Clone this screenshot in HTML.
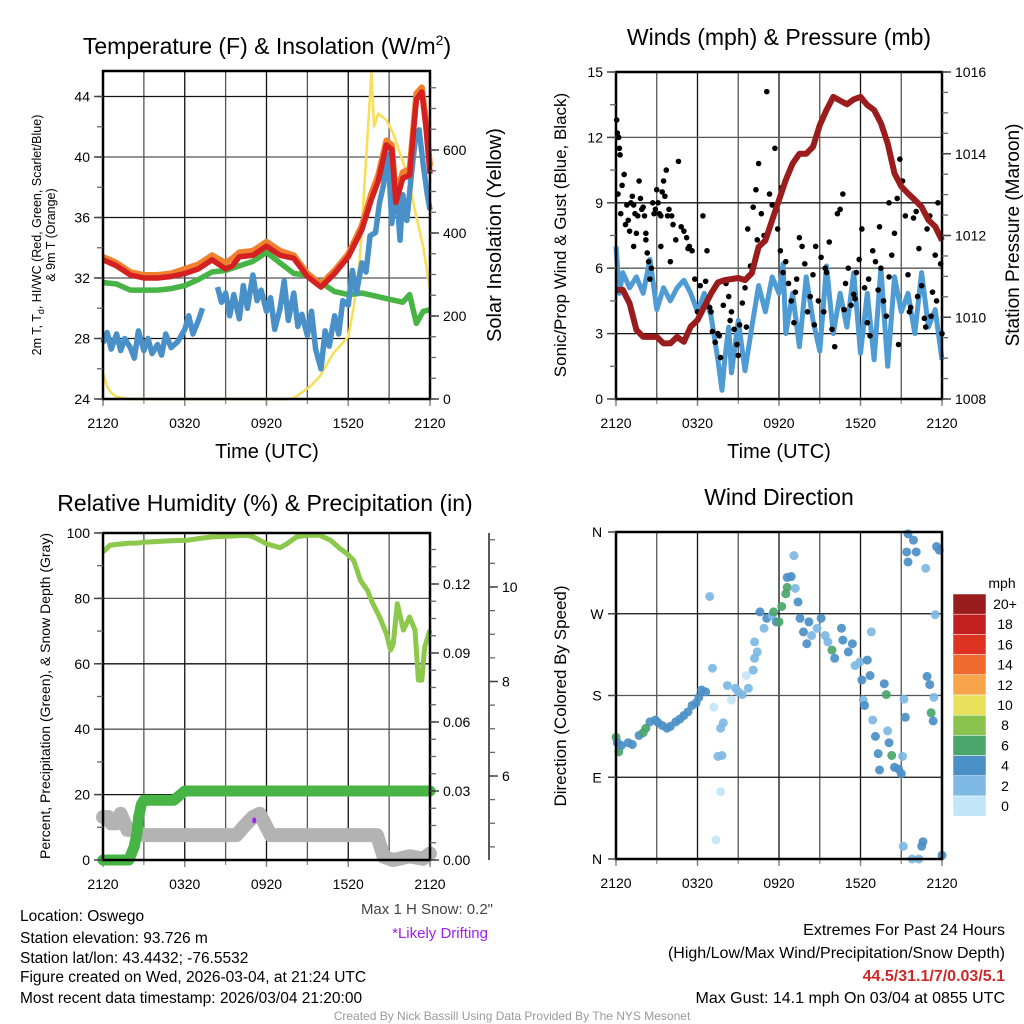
<!DOCTYPE html>
<html><head><meta charset="utf-8"><style>
html,body{margin:0;padding:0;background:#fff;}
svg{display:block;font-family:"Liberation Sans",Arial,sans-serif;}
</style></head><body>
<svg id="chart" width="1024" height="1024" viewBox="0 0 1024 1024" xmlns="http://www.w3.org/2000/svg">
<rect width="1024" height="1024" fill="#fff"/>
<g id="g1"></g>
<g id="g2"></g>
<g id="g3"></g>
<g id="g4"></g>
<g id="gtext">
<text x="267" y="54" font-size="23" text-anchor="middle">Temperature (F) &amp; Insolation (W/m<tspan dy="-9" font-size="14">2</tspan><tspan dy="9">)</tspan></text>
<text x="779" y="45" font-size="23" text-anchor="middle">Winds (mph) &amp; Pressure (mb)</text>
<text x="265" y="511" font-size="23" text-anchor="middle">Relative Humidity (%) &amp; Precipitation (in)</text>
<text x="779" y="505" font-size="23" text-anchor="middle">Wind Direction</text>
<text x="267" y="458" font-size="20" text-anchor="middle">Time (UTC)</text>
<text x="779" y="458" font-size="20" text-anchor="middle">Time (UTC)</text>
<text transform="translate(41,235) rotate(-90)" font-size="12.5" text-anchor="middle">2m T, T<tspan font-size="9" dy="3">d</tspan><tspan dy="-3">, HI/WC (Red, Green, Scarlet/Blue)</tspan></text>
<text transform="translate(55,235) rotate(-90)" font-size="12.5" text-anchor="middle">&amp; 9m T (Orange)</text>
<text transform="translate(501,235) rotate(-90)" font-size="20" text-anchor="middle">Solar Insolation (Yellow)</text>
<text transform="translate(566,235) rotate(-90)" font-size="17" text-anchor="middle">Sonic/Prop Wind &amp; Gust (Blue, Black)</text>
<text transform="translate(1019,235) rotate(-90)" font-size="19" text-anchor="middle">Station Pressure (Maroon)</text>
<text transform="translate(50,696) rotate(-90)" font-size="14" text-anchor="middle">Percent, Precipitation (Green), &amp; Snow Depth (Gray)</text>
<text transform="translate(566,696) rotate(-90)" font-size="17" text-anchor="middle">Direction (Colored By Speed)</text>
<text x="20" y="921" font-size="15.5">Location: Oswego</text>
<text x="20" y="943" font-size="15.5">Station elevation: 93.726 m</text>
<text x="20" y="963" font-size="15.5">Station lat/lon: 43.4432; -76.5532</text>
<text x="20" y="982" font-size="15.5">Figure created on Wed, 2026-03-04, at 21:24 UTC</text>
<text x="20" y="1003" font-size="15.5">Most recent data timestamp: 2026/03/04 21:20:00</text>
<text x="493" y="914" font-size="15" fill="#444" text-anchor="end">Max 1 H Snow: 0.2"</text>
<text x="488" y="938" font-size="15" fill="#a020f0" text-anchor="end">*Likely Drifting</text>
<text x="1005" y="935" font-size="16" text-anchor="end">Extremes For Past 24 Hours</text>
<text x="1005" y="958" font-size="16" text-anchor="end">(High/Low/Max Wind/Precipitation/Snow Depth)</text>
<text x="1005" y="981" font-size="16" font-weight="bold" fill="#cc2a2a" text-anchor="end">44.5/31.1/7/0.03/5.1</text>
<text x="1005" y="1003" font-size="16" text-anchor="end">Max Gust: 14.1 mph On 03/04 at 0855 UTC</text>
<text x="512" y="1020" font-size="12" fill="#999" text-anchor="middle">Created By Nick Bassill Using Data Provided By The NYS Mesonet</text>
</g>
</svg>
<script>
// ---------- data ----------
const xTickLabels = ["2120","0320","0920","1520","2120"];
const tempTicks = [24,28,32,36,40,44];
const solarTicks = [0,200,400,600];
const windTicks = [0,3,6,9,12,15];
const presTicks = [1008,1010,1012,1014,1016];
const rhTicks = [0,20,40,60,80,100];
const precipTicks = [0.00,0.03,0.06,0.09,0.12];
const snowTicks = [6,8,10];
const dirLabels = ["N","E","S","W","N"];

const redT = [0,1,2,3,4,5,6,7,8,9,9.5,10,11,12,13,14,15,15.7,16,17,18,19,19.7,20.2,20.8,21.2,21.5,22,22.5,23,23.4,23.7,24];
const redV = [33.2,32.8,32.2,32.0,32.0,32.1,32.3,32.6,33.2,32.6,32.8,33.4,33.5,34.1,33.5,33.3,32.1,31.6,31.4,32.3,33.4,35.2,37.2,38.4,40.8,40.5,37.0,38.6,38.8,43.8,44.3,42.0,38.9];
const orangeT = [0,1,2,3,4,5,6,7,8,9,9.5,10,11,12,13,14,15,15.7,16,17,18,19,19.7,20.2,20.8,21.2,21.5,22,22.5,23,23.4,23.7,24];
const orangeV = [33.4,33.0,32.4,32.2,32.2,32.3,32.6,32.9,33.5,33.0,33.3,33.7,33.8,34.4,33.8,33.5,32.3,31.8,31.6,32.5,33.6,35.5,37.6,38.8,41.1,40.8,37.5,39.0,39.2,44.2,44.6,42.5,39.4];
const greenT = [0,1,2,3,4,5,6,7,8,9,10,11,12,13,14,15,16,17,18,19,20,21,22,22.5,23,23.5,24];
const greenV = [31.7,31.6,31.2,31.2,31.2,31.3,31.5,31.9,32.4,32.5,32.8,33.1,33.7,33.0,32.3,32.2,31.7,31.1,30.9,31.0,30.8,30.6,30.4,30.9,29.0,29.8,29.9];
const blueT = [0,0.3,0.6,1,1.3,1.6,2,2.3,2.6,3,3.3,3.6,4,4.3,4.6,5,5.5,6,6.3,6.6,7,7.3,null,8.4,8.7,9,9.3,9.6,10,10.3,10.6,11,11.3,11.6,12,12.3,12.6,13,13.3,13.6,14,14.3,14.6,15,15.3,15.6,16,16.3,16.6,17,17.3,17.6,18,18.3,18.6,19,19.3,19.6,20,20.3,20.6,20.8,21,21.2,21.5,21.8,22,22.3,22.6,22.9,23.2,23.5,23.8,24];
const blueV = [27.7,28.4,27.3,28.3,27.2,28.0,27.4,26.7,28.5,27.2,28.0,27.0,27.6,26.9,28.3,27.4,27.8,28.6,29.5,28.3,29.2,30.0,null,31.4,30.4,31.0,29.5,30.9,29.3,31.5,30.0,32.2,30.5,31.2,29.8,30.7,28.6,30.0,31.8,29.2,31.0,28.8,29.6,28.2,29.8,27.3,26.0,28.5,27.5,29.5,28.3,30.5,30.2,32.5,31.0,33.0,32.4,34.8,35.0,37.0,38.2,40.2,39.0,35.6,38.5,34.5,37.5,35.8,38.5,41.0,41.8,39.5,37.5,36.5];
const solarT = [0,0.3,0.6,1,2,6,10,13.5,14.0,15.2,15.9,16.9,18.0,18.4,18.85,19.3,19.7,19.9,20.2,20.8,21.3,22.3,23.0,23.5,24];
const solarV = [62,30,15,5,0,0,0,0,2,30,54,110,150,222,335,576,785,656,688,672,640,544,439,367,263];

const presT = [0,0.5,1,1.5,2,3,3.5,4,4.5,5,5.5,6,6.5,7,7.5,8,9,9.5,10,10.5,11,11.5,12,12.5,13,13.5,14,14.5,15,15.5,16,16.5,17,17.5,18,18.5,19,19.5,20,20.5,21,21.5,22,22.5,23,23.5,24];
const presV = [1010.67,1010.67,1010.34,1009.69,1009.52,1009.52,1009.36,1009.36,1009.52,1009.4,1009.77,1009.93,1010.26,1010.58,1010.85,1010.91,1010.96,1010.91,1011.08,1011.72,1011.88,1012.38,1012.87,1013.36,1013.76,1014.0,1014.0,1014.17,1014.7,1015.07,1015.39,1015.3,1015.21,1015.33,1015.39,1015.19,1015.07,1014.75,1014.25,1013.52,1013.2,1013.03,1012.87,1012.7,1012.38,1012.22,1011.88];
const windT = [0,0.25,0.5,1,1.5,2,2.5,3,3.5,4,4.5,5,5.5,6,6.5,7,7.5,7.8,8,8.3,8.5,9,9.5,10,10.5,11,11.5,12,12.3,12.5,13,13.5,14,14.5,15,15.5,16,16.5,17,17.5,18,18.5,19,19.5,20,20.5,21,21.5,22,22.5,23,23.5,24];
const windV = [7.0,4.85,5.8,5.1,5.6,4.85,6.4,4.1,5.1,4.5,5.1,5.45,4.85,4.0,4.85,3.8,1.8,0.4,1.8,3.3,1.2,3.6,1.3,3.3,5.2,4.0,5.6,4.85,6.2,3.0,4.85,2.4,5.6,3.6,2.2,6.1,3.0,4.85,3.3,5.8,2.1,4.85,1.8,6.0,1.5,5.6,4.0,4.85,3.0,5.8,3.3,4.1,1.8];
const gustT = [0.05,0.1,0.15,0.2,0.25,0.3,0.35,0.45,0.6,0.7,0.8,0.9,1.0,1.1,1.2,1.3,1.4,1.5,1.6,1.7,1.8,1.9,2.0,2.1,2.2,2.3,2.4,2.5,2.6,2.7,2.8,2.9,3.0,3.1,3.2,3.3,3.4,3.5,3.6,3.7,3.8,3.9,4.0,4.2,4.4,4.6,4.8,5.0,5.2,5.4,5.6,5.8,6.0,6.2,6.4,6.7,6.9,7.1,7.3,7.5,7.7,7.9,8.1,8.3,8.5,8.7,8.9,9.1,9.3,9.5,9.7,9.9,10.1,10.3,10.5,10.7,10.9,11.1,11.3,11.5,11.7,11.9,12.1,12.3,12.5,12.7,12.9,13.1,13.3,13.5,13.7,13.9,14.1,14.3,14.5,14.7,14.9,15.1,15.3,15.5,15.7,15.9,16.1,16.3,16.5,16.7,16.9,17.1,17.3,17.5,17.7,17.9,18.1,18.3,18.5,18.7,18.9,19.1,19.3,19.5,19.7,19.9,20.1,20.3,20.5,20.7,20.9,21.1,21.3,21.5,21.7,21.9,22.1,22.3,22.5,22.7,22.9,23.1,23.3,23.5,23.7,23.9];
const gustV = [12.8,12.2,9.4,12.0,11.5,11.2,8.5,9.8,10.3,8.0,8.9,8.2,7.7,9.0,9.3,7.0,8.5,7.6,8.4,10.0,9.2,8.7,8.8,8.4,7.6,6.7,6.3,5.5,6.0,9.0,8.5,8.7,9.6,9.0,8.5,8.4,9.5,10.0,9.3,10.5,8.4,8.7,6.3,8.0,7.3,10.9,7.9,7.7,7.4,7.0,6.8,5.5,4.0,5.2,8.4,6.8,4.2,3.1,2.6,3.0,1.9,4.3,5.3,4.7,4.0,3.2,2.5,3.4,4.4,5.1,7.8,6.1,8.8,9.6,10.8,8.5,7.5,14.1,9.4,8.9,11.5,7.8,6.8,5.8,6.3,5.3,4.5,3.5,5.5,7.4,7.0,6.2,4.0,4.7,5.7,7.0,4.5,6.5,4.0,5.8,7.2,3.2,2.4,8.5,8.7,9.4,5.3,6.0,4.3,4.8,5.8,6.4,7.8,5.1,3.5,2.9,6.8,6.3,5.0,6.0,4.5,3.8,5.6,6.6,7.6,9.2,11.0,10.0,8.4,5.7,4.2,8.3,8.6,6.9,5.2,3.7,7.8,8.4,4.9,6.6,9.0,6.2,5.0];
const gust2T = [1.3,2.2,3.3,4.1,5.3,6.6,7.0,7.6,8.4,9.0,9.6,10.4,12.2,13.2,14.6,15.4,16.8,17.6,18.6,19.4,20.1,20.8,21.6,22.2,22.8,23.2,23.6,24.0];
const gust2V = [8.9,7.3,7.0,8.4,6.9,5.4,4.0,2.9,3.6,2.0,3.3,7.3,9.7,4.9,3.4,6.0,4.1,4.6,5.5,7.9,9.0,2.5,4.0,4.7,3.3,3.8,4.5,3.0];

const dirT = [0,0.1,0.2,0.4,0.9,1.2,1.7,2.0,2.2,2.5,2.9,3.1,3.4,3.75,4.0,4.4,4.7,5.0,5.3,5.6,5.9,6.1,6.3,6.6,6.9,7.1,7.2,7.7,7.9,7.5,7.8,7.7,7.35,8.2,8.5,8.8,9.0,9.3,9.75,9.6,10.1,10.2,10.4,10.2,10.6,10.9,11.1,11.5,11.8,11.6,12.0,12.2,12.5,12.6,12.6,12.9,13.2,13.1,13.4,13.55,13.8,14.2,14.05,14.4,14.8,15.1,15.4,15.6,15.9,16.1,16.6,16.7,17.1,17.4,17.6,17.96,18.1,18.5,18.7,18.8,18.2,18.3,18.9,19.1,19.3,19.4,19.75,19.9,20.0,20.1,20.3,20.5,20.8,21.0,21.1,21.2,21.3,21.4,21.5,21.9,22.1,21.5,22.8,22.9,23.1,23.2,23.35,23.4,23.5,23.6,23.8,21.15,21.8,22.3,22.6,22.5,24.0];
const dirD = [134,128,118,125,128,126,136,139,144,151,153,150,147,144,146,151,154,158,162,169,172,178,186,184,289,210,167,144,150,113,114,74,21,191,175,188,184,181,188,202,208,221,228,239,272,254,265,268,261,272,261,278,292,299,310,311,298,334,283,265,250,261,237,246,254,265,246,239,230,221,254,241,228,237,213,217,197,219,202,250,175,169,153,135,116,98,193,181,141,128,114,101,99,94,113,176,156,338,358,351,338,327,320,201,192,161,152,178,269,344,340,14,0,0,19,14,4];
const dirS = [7,5,7,5,4.5,5,4.5,7,7,4.5,5,4.5,4,4.5,5,4.5,4,4.5,4.5,4,4.5,4.5,4,4,3,3,1,3,3,2,2,1,1,3,1,3,3,3,3,1,3,3,3,3,4,3,4,3,4,7,7,7,7,7,4.5,4.5,3,3,4.5,4.5,4.5,4.5,4.5,3,3,4.5,3,3,7,4.5,4.5,4.5,4.5,4.5,3,3,4.5,4.5,4.5,3,3,4.5,3,4.5,4.5,4.5,4.5,7,3,4.5,7,4.5,4.5,4.5,3,3,4.5,4.5,4.5,4.5,4.5,4.5,3,4.5,4.5,7,4.5,3,3,4.5,4.5,3,3,3,4.5,4.5,4.5];

const rhT = [0,0.5,1,2,2.5,3,4,5,6.2,7,8,9.1,10,10.6,11.05,12,13,13.5,14.2,15,15.9,16.7,17.4,17.9,18.4,18.9,19.4,19.8,20.3,20.8,21.1,21.3,21.6,22.05,22.5,22.9,23.15,23.4,23.6,24];
const rhV = [94.2,96.2,96.5,96.9,96.9,97.2,97.4,97.6,97.8,98.3,98.8,99,99.2,99.3,98.8,96.7,95.5,96.7,98.8,99.3,99.3,97.8,95.2,93.7,91.6,85.5,82.5,78.4,74.3,69.2,64.2,66,78.4,70.3,74.3,70.3,55,55,65,70.3];
const precipT = [0,1.9,2.1,2.3,2.5,2.6,2.8,3.0,5.2,5.6,6.0,24];
const precipV = [0,0,0.003,0.006,0.012,0.018,0.024,0.026,0.026,0.028,0.03,0.03];
const snowT = [0,0.4,0.6,1.0,1.3,1.8,2.2,3.0,9.8,10.4,11.0,11.5,12.3,20.1,20.6,21.3,22.5,23.5,24];
const snowV = [5.13,5.13,5.0,5.0,5.2,4.86,4.86,4.75,4.75,4.95,5.13,5.2,4.75,4.75,4.29,4.22,4.3,4.25,4.36];

// ---------- helpers ----------
const NS = "http://www.w3.org/2000/svg";
function mk(parent, tag, attrs, txt){
  const e = document.createElementNS(NS, tag);
  for (const k in attrs) e.setAttribute(k, attrs[k]);
  if (txt !== undefined) e.textContent = txt;
  parent.appendChild(e);
  return e;
}
function lin(d0,d1,r0,r1){ return v => r0 + (v-d0)/(d1-d0)*(r1-r0); }
function pathD(ts, vs, sx, sy){
  let d = "", pen = false;
  for (let i=0;i<ts.length;i++){
    if (ts[i]===null || vs[i]===null){ pen=false; continue; }
    d += (pen ? "L" : "M") + sx(ts[i]).toFixed(1) + "," + sy(vs[i]).toFixed(1);
    pen = true;
  }
  return d;
}
function frame(g, L, R, T, B, hVals, sy){
  for (let i=0;i<=8;i++){
    const x = L + (R-L)*i/8;
    const gl = mk(g,"line",{x1:x,x2:x,y1:T,y2:B,stroke:i%2?"#555":"#111","stroke-width":1.3});
    
    
  }
  hVals.forEach((v,i)=>{
    const y = sy(v);
    const gl = mk(g,"line",{x1:L,x2:R,y1:y,y2:y,stroke:i%2?"#555":"#111","stroke-width":1.3});
    
    
  });
  xTickLabels.forEach((lab,i)=>{
    const x = L + (R-L)*i/4;
    mk(g,"line",{x1:x,x2:x,y1:B,y2:B+7,stroke:"#888","stroke-width":1.5});
    const t = mk(g,"text",{x:x,y:B+29,"font-size":14,"text-anchor":"middle"},lab);
    
    
  });
  for (let i=0;i<=8;i++){ const x=L+(R-L)*i/8; mk(g,"line",{x1:x,x2:x,y1:B,y2:B+5,stroke:"#888","stroke-width":1.2}); }
}
function border(g,L,R,T,B){
  const b = mk(g,"rect",{x:L,y:T,width:R-L,height:B-T,fill:"none",stroke:"#000","stroke-width":2.5});
  
  
}
function yAxis(g, x, side, ticks, sy, fmt, minorStep, minorFrom, minorTo, fs){
  for (let v=minorFrom; v<=minorTo+1e-9; v+=minorStep){
    const y = sy(v);
    mk(g,"line",{x1:x,x2:x+(side<0?-6:6),y1:y,y2:y,stroke:"#666","stroke-width":1.3});
  }
  ticks.forEach(v=>{
    const y = sy(v);
    mk(g,"line",{x1:x,x2:x+(side<0?-9:9),y1:y,y2:y,stroke:"#444","stroke-width":1.5});
    const t = mk(g,"text",{x:x+(side<0?-13:13),y:y+5,"font-size":fs||14,"text-anchor":side<0?"end":"start"},fmt(v));
    
    
  });
}

// ---------- panel 1 ----------
(function(){
  const g = document.getElementById("g1");
  const L=103,R=430,T=71,B=399;
  const sx = lin(0,24,L,R), sy = lin(24,44,399,96.5), sSol = lin(0,600,399,150);
  frame(g,L,R,T,B,[28,32,36,40,44],sy);
  const y = mk(g,"path",{d:pathD(solarT,solarV,sx,sSol),fill:"none",stroke:"#f7df5a","stroke-width":2.6,"stroke-linejoin":"round"});
   
  const gr = mk(g,"path",{d:pathD(greenT,greenV,sx,sy),fill:"none",stroke:"#48b445","stroke-width":5.5,"stroke-linejoin":"round"});
   
  const bl = mk(g,"path",{d:pathD(blueT,blueV,sx,sy),fill:"none",stroke:"#4a90c8","stroke-width":5.5,"stroke-linejoin":"round"});
   
  const or = mk(g,"path",{d:pathD(orangeT,orangeV,sx,sy),fill:"none",stroke:"#f07f2e","stroke-width":6,"stroke-linejoin":"round"});
   
  const rd = mk(g,"path",{d:pathD(redT,redV,sx,sy),fill:"none",stroke:"#d42020","stroke-width":5.5,"stroke-linejoin":"round"});
   
  border(g,L,R,T,B);
  yAxis(g,L,-1,tempTicks,sy,v=>String(v),2,24,44,14);
  yAxis(g,R,1,solarTicks,sSol,v=>String(v),50,0,750,14);
})();

// ---------- panel 2 ----------
(function(){
  const g = document.getElementById("g2");
  const L=616,R=942,T=72,B=399;
  const sx = lin(0,24,L,R), sy = lin(0,15,399,72), sp = lin(1008,1016,399,72);
  frame(g,L,R,T,B,[3,6,9,12],sy);
  const w = mk(g,"path",{d:pathD(windT,windV,sx,sy),fill:"none",stroke:"#4f9bd3","stroke-width":5,"stroke-linejoin":"round"});
   
  [[gustT,gustV],[gust2T,gust2V]].forEach(([ts,vs])=>{
    ts.forEach((t,i)=>{
      const c = mk(g,"circle",{cx:sx(t),cy:sy(vs[i]),r:2.8,fill:"#000"});
      
      
    });
  });
  const p = mk(g,"path",{d:pathD(presT,presV,sx,sp),fill:"none",stroke:"#9b1c1c","stroke-width":6,"stroke-linejoin":"round"});
   
  border(g,L,R,T,B);
  yAxis(g,L,-1,windTicks,sy,v=>String(v),1.5,0,15,14);
  yAxis(g,R,1,presTicks,sp,v=>String(v),0.5,1008,1016,14);
})();

// ---------- panel 3 ----------
(function(){
  const g = document.getElementById("g3");
  const L=103,R=430,T=533,B=860;
  const sx = lin(0,24,L,R), sy = lin(0,100,860,533), spr = lin(0,0.12,860,584), ssn = lin(6,10,776,587);
  frame(g,L,R,T,B,[20,40,60,80,100],sy);
  const sn = mk(g,"path",{d:pathD(snowT,snowV,sx,ssn),fill:"none",stroke:"#b3b3b3","stroke-width":14,"stroke-linejoin":"round","stroke-linecap":"round"});
   
  const pr = mk(g,"path",{d:pathD(precipT,precipV,sx,spr),fill:"none",stroke:"#48b445","stroke-width":11,"stroke-linejoin":"round","stroke-linecap":"round"});
   
  const rh = mk(g,"path",{d:pathD(rhT,rhV,sx,sy),fill:"none",stroke:"#8cc84b","stroke-width":5,"stroke-linejoin":"round"});
   
  const dr = mk(g,"ellipse",{cx:sx(11.1),cy:ssn(5.06),rx:2,ry:3,fill:"#a020f0"});
   
  border(g,L,R,T,B);
  yAxis(g,L,-1,rhTicks,sy,v=>String(v),10,0,100,14);
  yAxis(g,R,1,precipTicks,spr,v=>v.toFixed(2),0.0075,0,0.135,14);
  mk(g,"line",{x1:489,x2:489,y1:533,y2:860,stroke:"#222","stroke-width":1.5});
  yAxis(g,489,1,snowTicks,ssn,v=>String(v),0.5,4.5,11,14);
})();

// ---------- panel 4 ----------
(function(){
  const g = document.getElementById("g4");
  const L=616,R=942,T=532,B=859;
  const sx = lin(0,24,L,R), sy = lin(0,360,B,T);
  frame(g,L,R,T,B,[90,180,270,360],sy);
  const cols = ["#c3e5f8","#7eb9e4","#4a8fc6","#4aa56a","#8ac34d","#e9e05c","#f6a54b","#ef6a2c","#de3223","#c1201f","#981c1c"];
  dirT.forEach((t,i)=>{
    const c = mk(g,"circle",{cx:sx(t),cy:sy(dirD[i]),r:4.5,fill:cols[Math.min(10,Math.floor(dirS[i]/2))],"fill-opacity":0.92});
    
    
  });
  border(g,L,R,T,B);
  dirLabels.forEach((lab,i)=>{
    const y = sy(i*90);
    mk(g,"line",{x1:L,x2:L-8,y1:y,y2:y,stroke:"#444","stroke-width":1.5});
    const t = mk(g,"text",{x:L-19,y:y+5,"font-size":14,"text-anchor":"middle"},lab);
    
    
  });
  const labs = ["20+","18","16","14","12","10","8","6","4","2","0"];
  const cb = mk(g,"g",{});
  
  
  mk(cb,"text",{x:1002,y:588,"font-size":14,"text-anchor":"middle"},"mph");
  labs.forEach((lab,i)=>{
    const y = 594 + i*20.2;
    mk(cb,"rect",{x:953,y:y,width:33,height:20.2,fill:cols[10-i],stroke:"#fff","stroke-width":0.5});
    mk(cb,"text",{x:1005,y:y+15,"font-size":14,"text-anchor":"middle"},lab);
  });
})();
</script>
</body></html>
